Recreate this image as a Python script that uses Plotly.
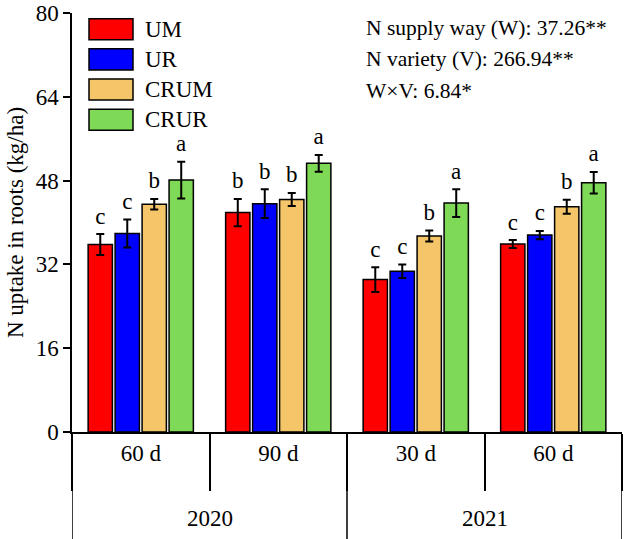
import plotly.graph_objects as go

years = ["2020", "2021"]
periods = ["60 d", "90 d", "30 d", "60 d"]
categories = ["2020 60 d", "2020 90 d", "2021 30 d", "2021 60 d"]
treatments = ["UM", "UR", "CRUM", "CRUR"]
colors = ["#FF0000", "#0000FF", "#F5C56A", "#7ED957"]

um_vals = [35.8, 41.9, 29.1, 35.9]
um_errs = [2.0, 2.6, 2.35, 0.75]
ur_vals = [37.9, 43.6, 30.7, 37.6]
ur_errs = [2.65, 2.75, 1.3, 0.8]
crum_vals = [43.5, 44.4, 37.4, 43.0]
crum_errs = [1.0, 1.25, 1.05, 1.35]
crur_vals = [48.1, 51.3, 43.7, 47.6]
crur_errs = [3.5, 1.6, 2.65, 2.05]

um_letters = ["c", "b", "c", "c"]
ur_letters = ["c", "b", "c", "c"]
crum_letters = ["b", "b", "b", "b"]
crur_letters = ["a", "a", "a", "a"]

stats_lines = ["N supply way (W): 37.26**", "N variety (V): 266.94**", "W×V: 6.84*"]

values = [um_vals, ur_vals, crum_vals, crur_vals]
errors = [um_errs, ur_errs, crum_errs, crur_errs]
letters = [um_letters, ur_letters, crum_letters, crur_letters]

FONT = "Liberation Serif, Times New Roman, serif"

fig = go.Figure()
for name, col, v, e in zip(treatments, colors, values, errors):
    fig.add_trace(go.Bar(
        x=categories, y=v, name=name, offsetgroup=name,
        marker=dict(color=col, line=dict(color="black", width=1.5)),
        error_y=dict(type="data", array=e, visible=True, color="black",
                     thickness=2, width=4),
        showlegend=False,
    ))
for name, v, e, l in zip(treatments, values, errors, letters):
    fig.add_trace(go.Scatter(
        x=categories, y=[a + b for a, b in zip(v, e)], mode="markers+text",
        text=l, textposition="top center", offsetgroup=name,
        marker=dict(size=6, opacity=0),
        textfont=dict(family=FONT, size=23, color="black"),
        showlegend=False, hoverinfo="skip",
    ))

# legend drawn manually (paper coordinates of plot area)
PX0, PX1, PY0, PY1 = 72, 622, 13.3, 431.7
def px(xp):
    return (xp - PX0) / (PX1 - PX0)
def py(yp):
    return (PY1 - yp) / (PY1 - PY0)

for i, (name, col) in enumerate(zip(treatments, colors)):
    top = 19 + i * 30.1
    fig.add_shape(type="rect", xref="paper", yref="paper",
                  x0=px(89), x1=px(133), y0=py(top + 21), y1=py(top),
                  fillcolor=col, line=dict(color="black", width=1.5))
    fig.add_annotation(xref="paper", yref="paper", x=px(143), y=py(top + 10.5),
                       text=name, showarrow=False, xanchor="left", yanchor="middle",
                       font=dict(family=FONT, size=23, color="black"))

for i, line in enumerate(stats_lines):
    fig.add_annotation(xref="paper", yref="paper", x=px(364), y=py(28 + i * 31.5),
                       text=line, showarrow=False, xanchor="left", yanchor="middle",
                       font=dict(family=FONT, size=21.5, color="black"))

# long dividers between years and at the ends
bottom = py(539)
for xb in [-0.5, 1.5, 3.5]:
    fig.add_shape(type="line", xref="x", yref="paper", x0=xb, x1=xb,
                  y0=0, y1=bottom, line=dict(color="black", width=1.5))
for i, yr in enumerate(years):
    fig.add_annotation(xref="x", yref="paper", x=0.5 + 2 * i, y=py(518),
                       text=yr, showarrow=False, xanchor="center", yanchor="middle",
                       font=dict(family=FONT, size=23, color="black"))

fig.update_layout(
    width=624, height=539,
    margin=dict(l=72, r=2, t=13.3, b=107.3, autoexpand=False),
    barmode="group", bargap=0.215, bargroupgap=0.1,
    scattermode="group", scattergap=0.215,
    plot_bgcolor="white", paper_bgcolor="white",
    font=dict(family=FONT, size=23, color="black"),
    xaxis=dict(
        type="category", tickvals=categories, ticktext=periods,
        range=[-0.5, 3.5], automargin=False,
        showline=True, linecolor="black", linewidth=1.5,
        ticks="outside", tickson="boundaries", ticklen=57, tickwidth=1.5,
        tickcolor="black", showgrid=False, zeroline=False,
        tickfont=dict(family=FONT, size=23, color="black"),
    ),
    yaxis=dict(
        range=[0, 80], tickvals=[0, 16, 32, 48, 64, 80], showline=True,
        automargin=False,
        linecolor="black", linewidth=1.5, ticks="outside", ticklen=7,
        tickwidth=1.5, tickcolor="black", showgrid=False, zeroline=False,
        tickfont=dict(family=FONT, size=23, color="black"),
        title=dict(text="N uptake in roots (kg/ha)", standoff=6,
                   font=dict(family=FONT, size=23, color="black")),
    ),
)

fig.write_html("out.html", config={"displayModeBar": False},
               post_script="document.body.style.margin='0px';document.body.style.overflow='hidden';")
